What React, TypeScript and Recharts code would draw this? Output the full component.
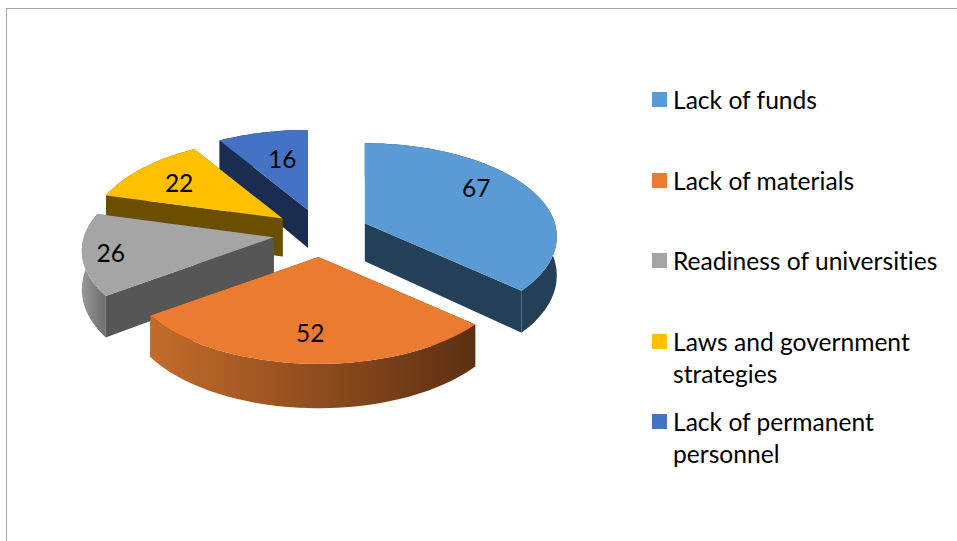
import React from "react";
import { PieChart, Pie, Legend } from "recharts";

const categories = ["Lack of funds", "Lack of materials", "Readiness of universities", "Laws and government strategies", "Lack of permanent personnel"];
const values = [67, 52, 26, 22, 16];
const topColors = ["#5b9bd5", "#ea7b30", "#a5a5a5", "#ffc000", "#4472c4"];
const sideColors = ["#234058", "#5f3012", "#565656", "#6b4f00", "#1a2d50"];
const arcStops = [["#234058", "#234058"], ["#c46c2b", "#5c2f12"], ["#989898", "#6c6c6c"], ["#6b4f00", "#6b4f00"], ["#1a2d50", "#1a2d50"]];
const legendLines = [["Lack of funds"], ["Lack of materials"], ["Readiness of universities"], ["Laws and government", "strategies"], ["Lack of permanent", "personnel"]];
const legendTops = [92, 173, 253, 334, 414];
const labelFit = [[0.68, 1.0], [0.73, 0.71], [0.85, 0.89], [0.74, 0.71], [0.57, 0.67]];

const FONT = "Lato, 'Open Sans', sans-serif";
const RX = 190, RY = 91.5, P = 0.144, DEPTH = 38, EX = 48, EY = 24;
const rad = (d: number) => (d * Math.PI) / 180;

const pieData = categories.map((name, i) => ({ name, value: values[i], idx: i })).reverse();

function apex(cx: number, cy: number, mid: number) {
  return { x: cx + EX * Math.cos(rad(mid)), y: cy - EY * Math.sin(rad(mid)) };
}
function project(ax: number, ay: number, deg: number) {
  const u = Math.cos(rad(deg)), v = -Math.sin(rad(deg));
  const w = 1 / (1 - P * v);
  return { x: ax + RX * u * w, y: ay + RY * v * w, d: DEPTH * w };
}
const pt = (p: { x: number; y: number }) => `${p.x.toFixed(1)},${p.y.toFixed(1)}`;

function Slice3D(props: any) {
  const { cx, cy, startAngle, endAngle, payload } = props;
  const idx = payload?.idx ?? props.idx;
  const mid = (startAngle + endAngle) / 2;
  const a = apex(cx, cy, mid);
  const arc: { x: number; y: number; d: number }[] = [];
  const steps = Math.ceil(Math.abs(endAngle - startAngle) / 2);
  for (let i = 0; i <= steps; i++) arc.push(project(a.x, a.y, startAngle + ((endAngle - startAngle) * i) / steps));
  const first = arc[0], last = arc[arc.length - 1];
  const dA = DEPTH;
  const wall = (e: { x: number; y: number; d: number }) =>
    `${pt(a)} ${pt(e)} ${pt({ x: e.x, y: e.y + e.d })} ${pt({ x: a.x, y: a.y + dA })}`;
  const band = arc.map(pt).join(" ") + " " + [...arc].reverse().map((e) => pt({ x: e.x, y: e.y + e.d })).join(" ");
  const xs = arc.map((e) => e.x);
  const gid = `arc-grad-${idx}`;
  return (
    <g>
      <defs>
        <linearGradient id={gid} gradientUnits="userSpaceOnUse" x1={Math.min(...xs)} x2={Math.max(...xs)} y1={0} y2={0}>
          <stop offset="0%" stopColor={arcStops[idx][0]} />
          <stop offset="100%" stopColor={arcStops[idx][1]} />
        </linearGradient>
      </defs>
      <polygon points={wall(first)} fill={sideColors[idx]} />
      <polygon points={wall(last)} fill={sideColors[idx]} />
      <polygon points={band} fill={`url(#${gid})`} />
      <polygon points={`${pt(a)} ${arc.map(pt).join(" ")}`} fill={topColors[idx]} />
    </g>
  );
}

function SliceLabel(props: any) {
  const { cx, cy, midAngle, value, payload } = props;
  const idx = payload?.idx ?? props.idx;
  const a = apex(cx, cy, midAngle);
  const u = Math.cos(rad(midAngle)), v = -Math.sin(rad(midAngle));
  const w = 1 / (1 - P * v);
  return (
    <text x={a.x + RX * u * w * labelFit[idx][0]} y={a.y + RY * v * w * labelFit[idx][1]} fill="#000" fontFamily={FONT} fontSize={24.5} textAnchor="middle" dominantBaseline="central">
      {value}
    </text>
  );
}

function LegendBox() {
  return (
    <div style={{ position: "relative", width: 957, height: 541 }}>
      {legendLines.map((lines, i) => (
        <React.Fragment key={i}>
          <div style={{ position: "absolute", left: 652, top: legendTops[i], width: 15, height: 15, background: topColors[i] }} />
          {lines.map((line, j) => (
            <div key={j} style={{ position: "absolute", left: 673, top: legendTops[i] - 9 + j * 32, height: 34, lineHeight: "34px", fontFamily: FONT, fontSize: 24.6, fontVariantLigatures: "none", color: "#000", whiteSpace: "nowrap" }}>
              {line}
            </div>
          ))}
        </React.Fragment>
      ))}
    </div>
  );
}

export default function App() {
  return (
    <div style={{ position: "absolute", left: 0, top: 0, width: 957, height: 541, background: "#fff", overflow: "hidden" }}>
      <div style={{ position: "absolute", left: 6, top: 8, width: 960, height: 560, borderTop: "1.5px solid #a3a3a3", borderLeft: "1.5px solid #a3a3a3" }} />
      <PieChart width={957} height={541} margin={{ top: 0, right: 0, bottom: 0, left: 0 }} style={{ position: "absolute", left: 0, top: 0 }}>
        <Pie
          data={pieData}
          dataKey="value"
          nameKey="name"
          cx={321}
          cy={233}
          outerRadius={190}
          startAngle={90}
          endAngle={450}
          stroke="none"
          shape={Slice3D as any}
          activeShape={Slice3D as any}
          inactiveShape={Slice3D as any}
          label={SliceLabel as any}
          labelLine={false}
          isAnimationActive={false}
        />
        <Legend content={() => <LegendBox />} wrapperStyle={{ position: "absolute", left: 0, top: 0, width: 957, height: 541 }} />
      </PieChart>
    </div>
  );
}
